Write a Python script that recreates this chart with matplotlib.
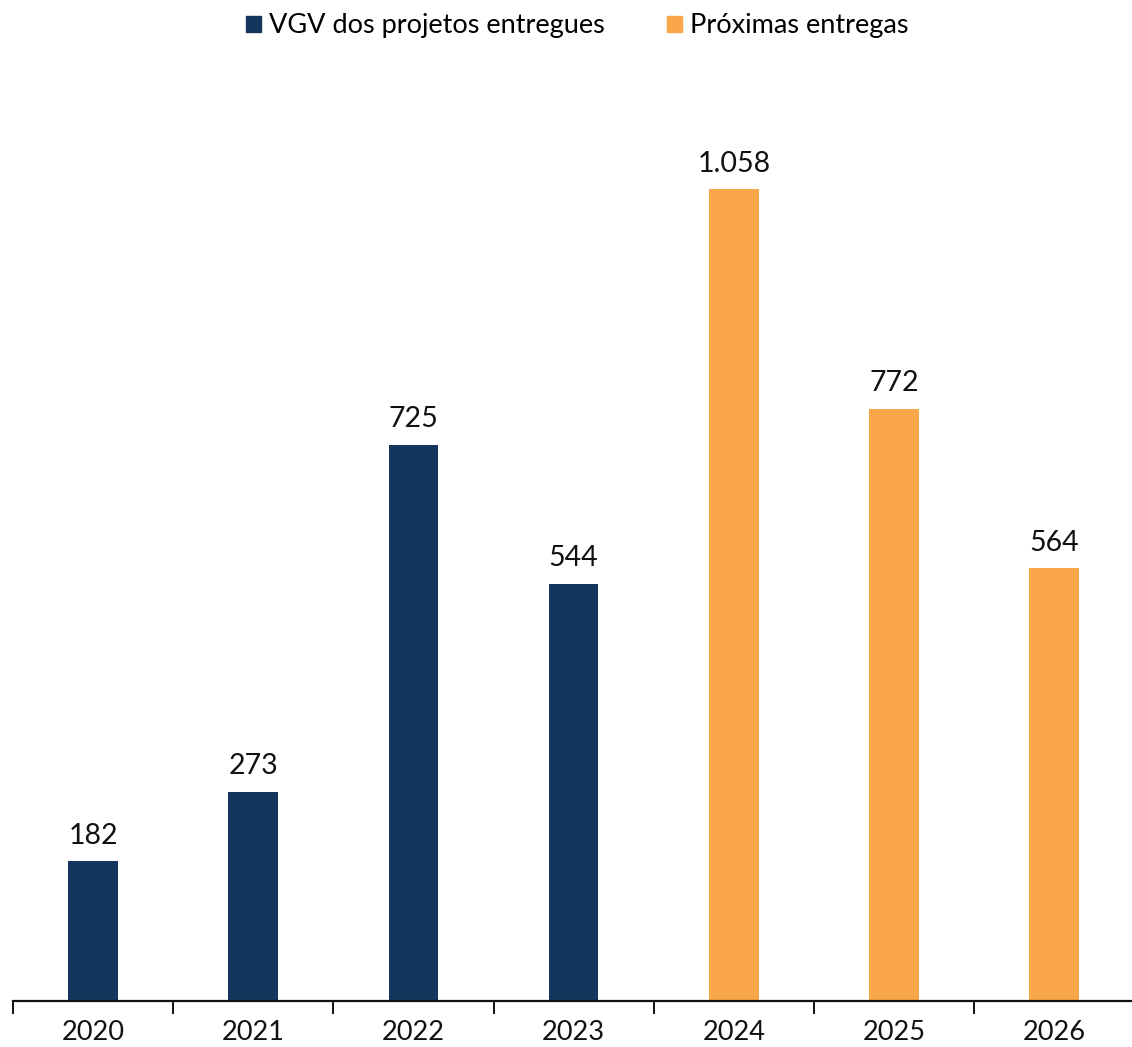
import matplotlib.pyplot as plt
from matplotlib.patches import Patch

years = ['2020', '2021', '2022', '2023', '2024', '2025', '2026']
values = [182, 273, 725, 544, 1058, 772, 564]
labels = ['182', '273', '725', '544', '1.058', '772', '564']
is_future = [False, False, False, False, True, True, True]

navy = '#14365D'
orange = '#FAA74A'

plt.rcParams['font.family'] = ['Lato', 'DejaVu Sans']

fig = plt.figure(figsize=(11.32, 10.47), dpi=100)
ax = fig.add_axes([13 / 1132, 1 - 1001 / 1047, 1 - 13 / 1132 + 0.002, 940 / 1047])

x = range(len(years))
colors = [orange if f else navy for f in is_future]
bars = ax.bar(x, values, width=0.31, color=colors)

for b, lab in zip(bars, labels):
    ax.text(b.get_x() + b.get_width() / 2, b.get_height() + 16, lab,
            ha='center', va='bottom', fontsize=20.5, color='#111111')

ax.set_xlim(-0.5, 6.5)
ax.set_ylim(0, 1225)
ax.set_yticks([])
for s in ['top', 'right', 'left']:
    ax.spines[s].set_visible(False)
ax.spines['bottom'].set_linewidth(1.6)
ax.spines['bottom'].set_color('#111111')

ax.set_xticks(list(x))
ax.set_xticklabels(years, fontsize=19.5, color='#111111')
ax.tick_params(axis='x', which='major', length=0, pad=14)
ax.set_xticks([i - 0.5 for i in range(len(years) + 1)], minor=True)
ax.tick_params(axis='x', which='minor', length=9, width=1.4, color='#111111')

handles = [Patch(color=navy, label='VGV dos projetos entregues'),
           Patch(color=orange, label='Próximas entregas')]
fig.legend(handles=handles, loc='center', bbox_to_anchor=(0.51, 1 - 26 / 1047),
           ncol=2, frameon=False, fontsize=19.5, handlelength=0.55, handleheight=0.55,
           handletextpad=0.3, columnspacing=2.3, borderpad=0)

fig.savefig('out.png', dpi=100)
